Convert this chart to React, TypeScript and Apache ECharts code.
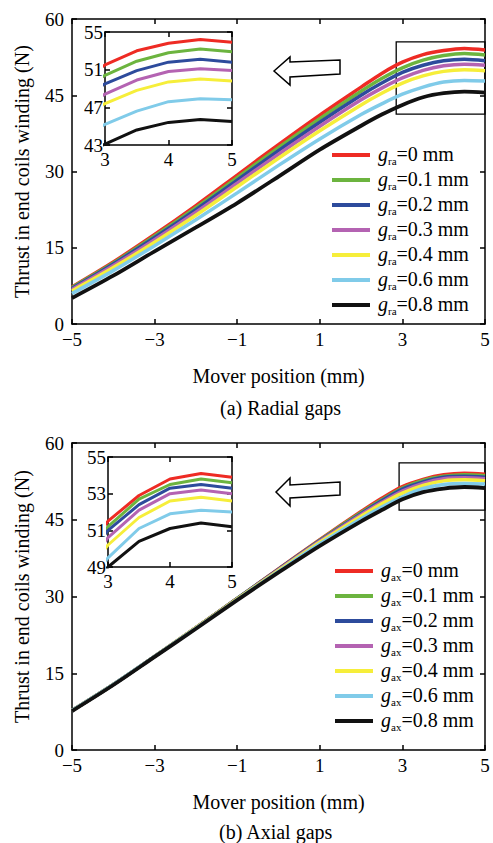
import React, { useEffect, useRef } from "react";
import * as echarts from "echarts";

const X = [-5, -4, -3, -2, -1, 0, 1, 2, 2.5, 3, 3.5, 4, 4.5, 5];

const GAP_LABELS = ["0", "0.1", "0.2", "0.3", "0.4", "0.6", "0.8"];
const COLORS = ["#ee2b24", "#6cb43f", "#2d4b9c", "#b463b2", "#f6ee3a", "#80cbe9", "#111111"];

const RA_0 = [7.3, 12.2, 17.6, 23.3, 29.3, 35.3, 41.1, 46.6, 49.3, 51.5, 53.0, 53.8, 54.2, 53.9];
const RA_1 = [7.2, 12.0, 17.3, 22.9, 28.8, 34.7, 40.4, 45.8, 48.3, 50.4, 51.9, 52.8, 53.2, 52.9];
const RA_2 = [7.0, 11.8, 17.0, 22.5, 28.3, 34.1, 39.7, 45.0, 47.4, 49.5, 50.9, 51.8, 52.1, 51.8];
const RA_3 = [6.8, 11.5, 16.6, 22.0, 27.7, 33.4, 38.9, 44.1, 46.4, 48.4, 49.9, 50.8, 51.1, 50.9];
const RA_4 = [6.5, 11.1, 16.1, 21.4, 27.0, 32.6, 38.0, 43.1, 45.4, 47.4, 48.8, 49.7, 50.0, 49.8];
const RA_6 = [6.0, 10.5, 15.4, 20.5, 25.8, 31.2, 36.4, 41.2, 43.3, 45.2, 46.6, 47.6, 47.9, 47.8];
const RA_8 = [5.1, 9.5, 14.3, 19.0, 23.8, 29.0, 34.3, 39.0, 41.2, 43.1, 44.6, 45.4, 45.7, 45.5];

const AX_0 = [7.7, 12.8, 18.3, 23.9, 29.6, 35.4, 41.1, 46.6, 49.2, 51.5, 52.9, 53.8, 54.1, 53.9];
const AX_1 = [7.7, 12.8, 18.3, 23.9, 29.6, 35.3, 41.0, 46.4, 48.9, 51.2, 52.7, 53.5, 53.8, 53.6];
const AX_2 = [7.7, 12.8, 18.3, 23.9, 29.6, 35.3, 40.9, 46.2, 48.7, 51.0, 52.4, 53.3, 53.5, 53.3];
const AX_3 = [7.7, 12.8, 18.3, 23.9, 29.5, 35.2, 40.8, 46.0, 48.4, 50.6, 52.1, 53.0, 53.2, 53.0];
const AX_4 = [7.7, 12.8, 18.3, 23.9, 29.5, 35.1, 40.6, 45.7, 48.1, 50.2, 51.7, 52.6, 52.8, 52.6];
const AX_6 = [7.7, 12.8, 18.3, 23.8, 29.4, 34.9, 40.3, 45.2, 47.5, 49.5, 51.1, 51.9, 52.1, 52.0];
const AX_8 = [7.6, 12.7, 18.2, 23.7, 29.3, 34.7, 39.9, 44.7, 46.9, 49.0, 50.4, 51.1, 51.4, 51.2];

const RADIAL = [RA_0, RA_1, RA_2, RA_3, RA_4, RA_6, RA_8];
const AXIAL = [AX_0, AX_1, AX_2, AX_3, AX_4, AX_6, AX_8];

const MAIN_X_TICKS = [-5, -3, -1, 1, 3, 5];
const MAIN_Y_TICKS = [0, 15, 30, 45, 60];
const INSET_X_TICKS = [3, 4, 5];
const RADIAL_INSET_Y_TICKS = [43, 47, 51, 55];
const AXIAL_INSET_Y_TICKS = [49, 51, 53, 55];

const FONT = "Liberation Serif, Times New Roman, DejaVu Serif, serif";

export default function App() {
  const ref = useRef<HTMLDivElement>(null);

  useEffect(() => {
    if (!ref.current) return;
    const chart = echarts.init(ref.current, null, { renderer: "svg" });

    const fmt = (v: number) => String(v).replace("-", "\u2212");
    const axisLine = { show: true, onZero: false, lineStyle: { color: "#000", width: 1.5 } };
    const tick = (vals: number[], len = 5) => ({
      show: true,
      inside: true,
      length: len,
      customValues: vals,
      lineStyle: { color: "#000", width: 1.5 },
    });

    const grids = [
      { left: 72, top: 19, width: 413, height: 305 },
      { left: 105, top: 32, width: 127, height: 113, backgroundColor: "#fff", show: true, borderWidth: 0 },
      { left: 72, top: 443, width: 413, height: 307 },
      { left: 108, top: 457, width: 124, height: 110, backgroundColor: "#fff", show: true, borderWidth: 0 },
    ];

    const xAxes: any[] = [];
    const yAxes: any[] = [];
    const mkAxes = (
      gi: number,
      xr: number[],
      yr: number[],
      xt: number[],
      yt: number[],
      inset: boolean,
      withNames: boolean
    ) => {
      xAxes.push({
        type: "value",
        gridIndex: gi,
        min: xr[0],
        max: xr[1],
        position: "bottom",
        axisLine,
        axisTick: tick(xt),
        splitLine: { show: false },
        axisLabel: {
          customValues: xt,
          formatter: fmt,
          color: "#000",
          fontFamily: FONT,
          fontSize: 19,
          margin: inset ? 5 : 6,
        },
        name: withNames ? "Mover position (mm)" : "",
        nameLocation: "middle",
        nameGap: 42,
        nameTextStyle: { color: "#000", fontFamily: FONT, fontSize: 20 },
      });
      xAxes.push({
        type: "value",
        gridIndex: gi,
        min: xr[0],
        max: xr[1],
        position: "top",
        axisLine,
        axisTick: tick(xt),
        axisLabel: { show: false },
        splitLine: { show: false },
      });
      yAxes.push({
        type: "value",
        gridIndex: gi,
        min: yr[0],
        max: yr[1],
        position: "left",
        axisLine,
        axisTick: tick(yt),
        splitLine: { show: false },
        axisLabel: {
          customValues: yt,
          color: "#000",
          fontFamily: FONT,
          fontSize: 19,
          margin: inset ? 2 : 8,
        },
        name: withNames ? "Thrust in end coils winding (N)" : "",
        nameLocation: "middle",
        nameGap: 40,
        nameTextStyle: { color: "#000", fontFamily: FONT, fontSize: 20 },
      });
      yAxes.push({
        type: "value",
        gridIndex: gi,
        min: yr[0],
        max: yr[1],
        position: "right",
        axisLine,
        axisTick: tick(yt),
        axisLabel: { show: false },
        splitLine: { show: false },
      });
    };

    mkAxes(0, [-5, 5], [0, 60], MAIN_X_TICKS, MAIN_Y_TICKS, false, true);
    mkAxes(1, [3, 5], [43, 55], INSET_X_TICKS, RADIAL_INSET_Y_TICKS, true, false);
    mkAxes(2, [-5, 5], [0, 60], MAIN_X_TICKS, MAIN_Y_TICKS, false, true);
    mkAxes(3, [3, 5], [49, 55], INSET_X_TICKS, AXIAL_INSET_Y_TICKS, true, false);

    const series: any[] = [];
    const addSet = (
      sets: number[][],
      prefix: string,
      mainAxis: number,
      insetAxis: number,
      zoomRect: number[]
    ) => {
      sets.forEach((vals, i) => {
        const name = `${prefix}|${GAP_LABELS[i]}`;
        const data = X.map((x, k) => [x, vals[k]]);
        const main: any = {
          type: "line",
          name,
          xAxisIndex: mainAxis,
          yAxisIndex: mainAxis,
          data,
          showSymbol: false,
          smooth: 0.3,
          lineStyle: { color: COLORS[i], width: i === 6 ? 3.8 : 3.5 },
          itemStyle: { color: COLORS[i] },
          clip: true,
          z: 2 + i,
        };
        if (i === 0) {
          main.markArea = {
            silent: true,
            itemStyle: { color: "rgba(0,0,0,0)", borderColor: "#000", borderWidth: 1.3 },
            data: [[{ coord: [zoomRect[0], zoomRect[2]] }, { coord: [zoomRect[1], zoomRect[3]] }]],
          };
        }
        series.push(main);
        series.push({
          type: "line",
          name,
          xAxisIndex: insetAxis,
          yAxisIndex: insetAxis,
          data,
          showSymbol: false,
          lineStyle: { color: COLORS[i], width: 3 },
          itemStyle: { color: COLORS[i] },
          clip: true,
          z: 20 + i,
        });
      });
    };
    addSet(RADIAL, "ra", 0, 2, [2.85, 5, 41.3, 55.5]);
    addSet(AXIAL, "ax", 4, 6, [2.92, 5, 46.9, 56.1]);

    const rich = {
      g: { fontFamily: FONT, fontStyle: "italic", fontSize: 20, lineHeight: 22, verticalAlign: "top", color: "#000", padding: [0, 0, 0, 3] },
      s: { fontFamily: FONT, fontSize: 11, lineHeight: 11, padding: [14, 0, 0, 0], verticalAlign: "bottom", color: "#000" },
      t: { fontFamily: FONT, fontSize: 20, lineHeight: 22, verticalAlign: "top", color: "#000" },
    };
    const legendFmt = (name: string) => {
      const [p, v] = name.split("|");
      return `{g|g}{s|${p}}{t|=${v} mm}`;
    };
    const mkLegend = (prefix: string, left: number, top: number) => ({
      orient: "vertical",
      left,
      top,
      padding: 0,
      itemGap: 0,
      itemWidth: 38,
      itemHeight: 4,
      icon: "rect",
      selectedMode: false,
      data: GAP_LABELS.map((v) => `${prefix}|${v}`),
      formatter: legendFmt,
      textStyle: { rich },
    });

    const arrow = (pts: number[][]) => ({
      type: "polygon",
      shape: { points: pts },
      style: { fill: "#fff", stroke: "#000", lineWidth: 1.5 },
      z: 100,
    });

    chart.setOption({
      animation: false,
      backgroundColor: "#fff",
      grid: grids,
      xAxis: xAxes,
      yAxis: yAxes,
      series,
      legend: [mkLegend("ra", 332, 141), mkLegend("ax", 335, 557)],
      graphic: [
        arrow([[274, 71], [290, 57], [290, 62], [340, 60], [340, 74], [290, 77], [290, 85]]),
        arrow([[276, 492], [290, 478], [290, 485], [340, 482], [340, 495], [290, 498], [290, 506]]),
        {
          type: "text",
          left: 281 - 61,
          top: 398,
          style: { text: "(a) Radial gaps", fontFamily: FONT, fontSize: 20, fill: "#000" },
        },
        {
          type: "text",
          left: 277 - 58,
          top: 822,
          style: { text: "(b) Axial gaps", fontFamily: FONT, fontSize: 20, fill: "#000" },
        },
      ],
    });

    return () => chart.dispose();
  }, []);

  return (
    <div
      ref={ref}
      style={{ position: "absolute", left: 0, top: 0, width: 493, height: 843, background: "#fff" }}
    />
  );
}
